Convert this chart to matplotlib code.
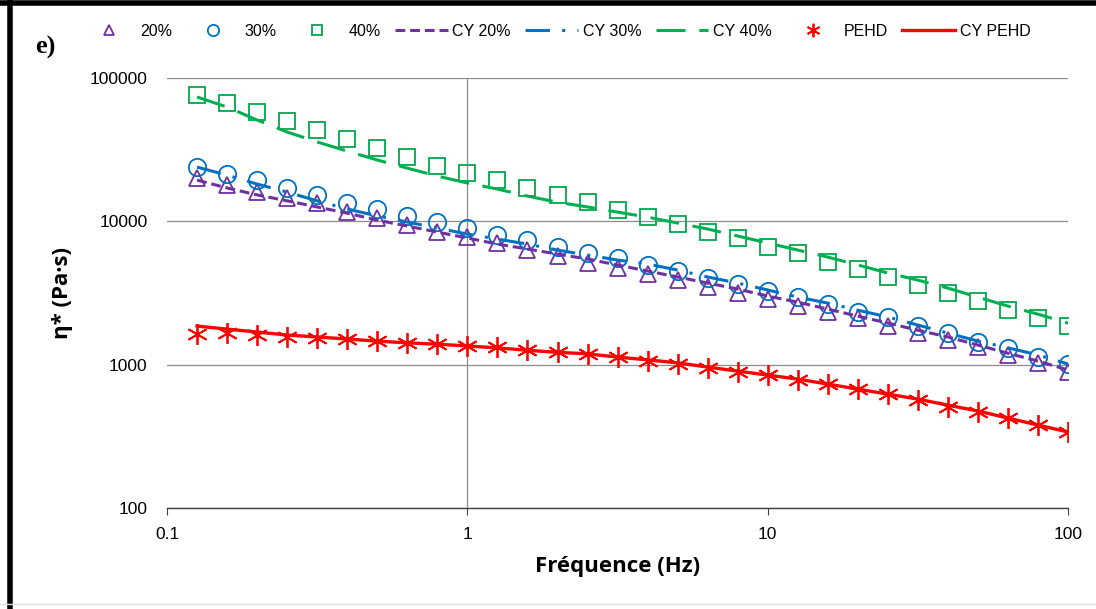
import matplotlib
matplotlib.use("Agg")
import matplotlib.pyplot as plt
from matplotlib.lines import Line2D

# frequencies (Hz), 10 points per decade
freq = [0.1259, 0.1585, 0.1995, 0.2512, 0.3162, 0.3981, 0.5012, 0.6310, 0.7943, 1.0,
        1.259, 1.585, 1.995, 2.512, 3.162, 3.981, 5.012, 6.310, 7.943, 10.0,
        12.59, 15.85, 19.95, 25.12, 31.62, 39.81, 50.12, 63.10, 79.43, 100.0]

# measured complex viscosity (Pa.s)
eta_20 = [20100, 17900, 16000, 14500, 13400, 11600, 10500, 9420, 8420, 7770,
          7060, 6300, 5730, 5120, 4720, 4290, 3890, 3480, 3160, 2870,
          2560, 2330, 2110, 1860, 1660, 1480, 1330, 1170, 1030, 888]
eta_30 = [23900, 21400, 19400, 17100, 15300, 13400, 12200, 10900, 9890, 8980,
          8020, 7400, 6620, 6010, 5540, 4960, 4500, 4020, 3650, 3260,
          2960, 2650, 2330, 2150, 1860, 1660, 1440, 1310, 1130, 1010]
eta_40 = [76100, 66900, 57900, 50100, 43400, 37500, 32500, 28100, 24300, 21700,
          19400, 17100, 15300, 13600, 12000, 10700, 9580, 8420, 7650, 6620,
          6010, 5200, 4650, 4090, 3590, 3160, 2780, 2400, 2110, 1860]
eta_pehd = [1640, 1660, 1610, 1560, 1530, 1510, 1460, 1420, 1390, 1350,
            1330, 1260, 1220, 1190, 1130, 1060, 1010, 947, 888, 846,
            781, 732, 675, 623, 566, 506, 467, 424, 379, 339]

# Carreau-Yasuda fits
cy_20 = [19400, 17100, 15300, 13900, 12600, 11400, 10200, 9270, 8420, 7650,
         6940, 6410, 5910, 5460, 4960, 4500, 4090, 3710, 3370, 3010,
         2730, 2440, 2180, 1950, 1740, 1560, 1370, 1200, 1060, 917]
cy_30 = [23900, 21000, 18200, 16000, 13900, 12200, 10900, 9890, 8980, 8150,
         7520, 6940, 6300, 5820, 5370, 5040, 4570, 4090, 3710, 3320,
         2960, 2690, 2400, 2150, 1890, 1660, 1460, 1310, 1170, 1010]
cy_40 = [73700, 62700, 50900, 42000, 35800, 30900, 26800, 23500, 20700, 18500,
         16800, 15000, 13600, 12600, 11600, 10700, 9730, 8840, 7900, 7060,
         6300, 5630, 4960, 4360, 3890, 3420, 2960, 2560, 2250, 1950]
cy_pehd = [1860, 1770, 1690, 1610, 1560, 1510, 1460, 1420, 1390, 1350,
           1310, 1260, 1220, 1190, 1130, 1080, 1030, 962, 902, 846,
           793, 732, 675, 623, 575, 522, 475, 424, 379, 339]

purple = "#7030A0"
blue = "#0070C0"
green = "#00B050"
red = "#FF0000"

fig = plt.figure(figsize=(10.96, 6.09), dpi=100)
ax = fig.add_axes([0.1524, 0.1658, 0.8222, 0.7061])

ax.plot(freq, eta_20, ls="none", marker="^", ms=12, mfc="none", mec=purple, mew=1.3, label="20%")
ax.plot(freq, eta_30, ls="none", marker="o", ms=12.5, mfc="none", mec=blue, mew=1.3, label="30%")
ax.plot(freq, eta_40, ls="none", marker="s", ms=12, mfc="none", mec="#00A84C", mew=1.3, label="40%")
ax.plot(freq, cy_20, color=purple, lw=2.2, dashes=(3.2, 1.6), label="CY 20%")
ax.plot(freq, cy_30, color=blue, lw=2.2, dashes=(8, 4, 1, 4), label="CY 30%")
ax.plot(freq, cy_40, color=green, lw=2.2, dashes=(9.5, 4.5), label="CY 40%")
ax.plot(freq, eta_pehd, ls="none", marker=(6, 2, 0), ms=15, mec=red, mew=1.3, label="PEHD")
ax.plot(freq, cy_pehd, color=red, lw=2.4, label="CY PEHD")

ax.set_xscale("log")
ax.set_yscale("log")
ax.set_xlim(0.1, 100)
ax.set_ylim(100, 100000)
ax.set_xticks([0.1, 1, 10, 100])
ax.set_xticklabels(["0.1", "1", "10", "100"])
ax.set_yticks([100, 1000, 10000, 100000])
ax.set_yticklabels(["100", "1000", "10000", "100000"])
ax.minorticks_off()

for s in ["top", "right", "left"]:
    ax.spines[s].set_visible(False)
ax.spines["bottom"].set_color("#404040")
ax.spines["bottom"].set_linewidth(1.0)
ax.grid(axis="y", color="#8c8c8c", lw=0.9)
ax.axvline(1, color="#8c8c8c", lw=0.9, zorder=0.5)
ax.set_axisbelow(True)

ax.tick_params(axis="x", length=5, width=0.8, color="#404040", pad=9, labelsize=12.5)
ax.tick_params(axis="y", length=0, pad=14, labelsize=12.5)
for t in ax.get_xticklabels() + ax.get_yticklabels():
    t.set_fontfamily("Liberation Sans")

ax.set_xlabel("Fréquence (Hz)", fontsize=16, fontweight="bold", family="Open Sans", labelpad=10)
ax.set_ylabel("η* (Pa·s)", fontsize=16, fontweight="bold", family="Open Sans", labelpad=12)

fig.legend(loc="center", bbox_to_anchor=(0.508, 0.949), ncol=8, frameon=False,
           prop={"family": "Liberation Sans", "size": 11.5}, handlelength=3.3,
           handletextpad=0.3, columnspacing=0.9, markerscale=0.65)

fig.text(0.032, 0.922, "e)", fontsize=19, fontweight="bold", family="Liberation Serif", va="center")

# frame lines of the original figure
fig.add_artist(Line2D([0.0, 1.0], [0.9955, 0.9955], transform=fig.transFigure, color="black", lw=4))
fig.add_artist(Line2D([0.0095, 0.0095], [0.0, 0.997], transform=fig.transFigure, color="black", lw=4))
fig.add_artist(Line2D([0.0, 1.0], [0.008, 0.008], transform=fig.transFigure, color="#dddddd", lw=1))

fig.savefig("out.png", dpi=100)
